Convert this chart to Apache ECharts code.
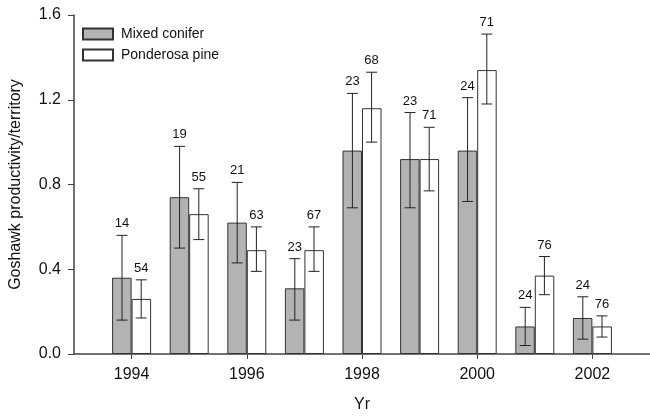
<!DOCTYPE html>
<html>
<head>
<meta charset="utf-8">
<script src="https://cdn.jsdelivr.net/npm/echarts@6/dist/echarts.min.js"></script>
<style>html,body{margin:0;padding:0;background:#fff}#c{width:650px;height:418px}</style>
</head>
<body>
<div id="c"></div>
<script>
// Data
var years = ['1994','1995','1996','1997','1998','1999','2000','2001','2002'];
var axisCats = ['1993','1994','1995','1996','1997','1998','1999','2000','2001','2002','2003'];
var mixed     = [0.36, 0.74, 0.62, 0.31, 0.96, 0.92, 0.96, 0.13, 0.17];
var mixedLo   = [0.16, 0.50, 0.43, 0.16, 0.69, 0.69, 0.72, 0.04, 0.07];
var mixedHi   = [0.56, 0.98, 0.81, 0.45, 1.23, 1.14, 1.21, 0.22, 0.27];
var mixedN    = [14, 19, 21, 23, 23, 23, 24, 24, 24];
var pond      = [0.26, 0.66, 0.49, 0.49, 1.16, 0.92, 1.34, 0.37, 0.13];
var pondLo    = [0.17, 0.54, 0.39, 0.39, 1.00, 0.77, 1.18, 0.28, 0.08];
var pondHi    = [0.35, 0.78, 0.60, 0.60, 1.33, 1.07, 1.51, 0.46, 0.18];
var pondN     = [54, 55, 63, 67, 68, 71, 71, 76, 76];
var yTicks    = [0, 0.4, 0.8, 1.2, 1.6];

var FONT = 'Liberation Sans, Arial, sans-serif';

function pairs(vals){ return years.map(function(y,i){ return [y, vals[i]]; }); }
function errData(lo, hi, n){ return years.map(function(y,i){ return [y, lo[i], hi[i], n[i]]; }); }

function errRender(side){
  return function(params, api){
    var idx = api.value(0);
    var lo = api.coord([idx, api.value(1)]);
    var hi = api.coord([idx, api.value(2)]);
    var band = api.size([1, 0])[0];
    var x = lo[0] + side * band / 6;
    var cap = 5.5;
    var st = {stroke: '#222', lineWidth: 1};
    return {
      type: 'group',
      children: [
        {type:'line', shape:{x1:x, y1:lo[1], x2:x, y2:hi[1]}, style:st},
        {type:'line', shape:{x1:x-cap, y1:lo[1], x2:x+cap, y2:lo[1]}, style:st},
        {type:'line', shape:{x1:x-cap, y1:hi[1], x2:x+cap, y2:hi[1]}, style:st},
        {type:'text', x:x, y:hi[1]-5, style:{text:String(api.value(3)), fill:'#111',
          font:'13px ' + FONT, textAlign:'center', textVerticalAlign:'bottom'}}
      ]
    };
  };
}

var evenYear = function(i, v){ return Number(v) % 2 === 0; };

var chart = echarts.init(document.getElementById('c'), null, {renderer:'canvas'});
chart.setOption({
  animation: false,
  backgroundColor: '#fff',
  grid: {left: 70, top: 15, bottom: 63, right: -5, containLabel: false},
  legend: {
    data: ['Mixed conifer', 'Ponderosa pine'],
    orient: 'vertical', left: 82, top: 27, padding: 0, itemWidth: 30, itemHeight: 11, itemGap: 7,
    icon: 'rect',
    textStyle: {fontFamily: FONT, fontSize: 14, color: '#111', padding: [0,0,0,3]}
  },
  xAxis: {
    type: 'category', data: axisCats, boundaryGap: false,
    name: 'Yr', nameLocation: 'middle', nameGap: 43,
    nameTextStyle: {fontFamily: FONT, fontSize: 16, color: '#111'},
    axisLine: {lineStyle: {color: '#444', width: 1.5}},
    axisTick: {show: true, inside: false, length: 5, interval: evenYear, lineStyle: {color: '#444'}},
    axisLabel: {interval: evenYear, margin: 13, fontFamily: FONT, fontSize: 16, color: '#111'},
    splitLine: {show: false}
  },
  yAxis: {
    type: 'value', min: 0, max: 1.6, interval: 0.4,
    name: 'Goshawk productivity/territory', nameLocation: 'middle', nameGap: 50,
    nameTextStyle: {fontFamily: FONT, fontSize: 16, color: '#111'},
    axisLine: {show: true, lineStyle: {color: '#444', width: 1.5}},
    axisTick: {show: true, inside: false, length: 6, lineStyle: {color: '#444'}},
    axisLabel: {margin: 13, fontFamily: FONT, fontSize: 16, color: '#111',
      formatter: function(v){ return yTicks.indexOf(v) >= 0 ? v.toFixed(1) : ''; }},
    splitLine: {show: false}
  },
  series: [
    {name: 'Mixed conifer', type: 'bar', data: pairs(mixed), barWidth: 19.5, barGap: '0%',
      itemStyle: {color: '#b3b3b3', borderColor: '#333', borderWidth: 1}, z: 2},
    {name: 'Ponderosa pine', type: 'bar', data: pairs(pond), barWidth: 19.5, barGap: '0%',
      itemStyle: {color: '#ffffff', borderColor: '#333', borderWidth: 1}, z: 2},
    {name: 'mixedErr', type: 'custom', data: errData(mixedLo, mixedHi, mixedN),
      encode: {x: 0, y: [1, 2]}, renderItem: errRender(-1), z: 5, silent: true},
    {name: 'pondErr', type: 'custom', data: errData(pondLo, pondHi, pondN),
      encode: {x: 0, y: [1, 2]}, renderItem: errRender(1), z: 5, silent: true}
  ]
});
</script>
</body>
</html>
